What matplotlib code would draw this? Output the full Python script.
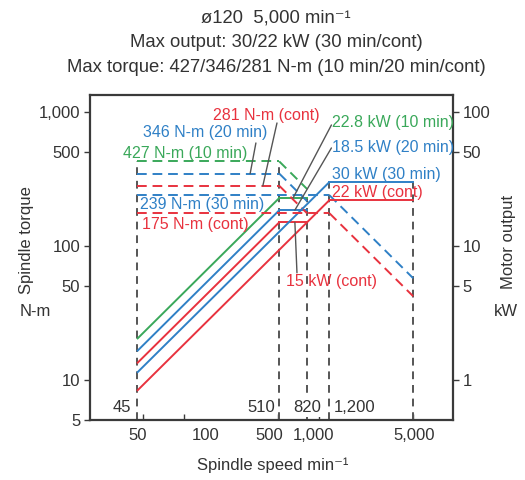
import numpy as np
import matplotlib
matplotlib.use("Agg")
import matplotlib.pyplot as plt
from matplotlib.ticker import FixedLocator, NullLocator, FixedFormatter
from matplotlib.transforms import ScaledTranslation

plt.rcParams['font.family'] = ['Liberation Sans', 'DejaVu Sans']

# ---- rating data -------------------------------------------------------
min_speed = 45                                   # min^-1
rating_names = ["10 min", "20 min", "cont", "30 min", "cont"]
max_torque = [427, 346, 281, 239, 175]           # N-m
max_output = [22.8, 18.5, 15, 30, 22]            # kW
base_speed = [510, 510, 510, 1200, 1200]         # min^-1
top_speed = [820, 820, 820, 5000, 5000]          # min^-1
line_colors = ["#3aa85a", "#2f80c6", "#e8323e", "#2f80c6", "#e8323e"]

marker_speeds = [45, 510, 820, 1200, 5000]
marker_labels = ["45", "510", "820", "1,200"]

x_ticks = [50, 100, 500, 1000, 5000]
x_ticklabels = ["50", "100", "500", "1,000", "5,000"]
y_ticks = [5, 10, 50, 100, 500, 1000]
y_ticklabels = ["5", "10", "50", "100", "500", "1,000"]
y2_ticks = [1, 5, 10, 50, 100]
y2_ticklabels = ["1", "5", "10", "50", "100"]

title_lines = ["ø120  5,000 min⁻¹",
               "Max output: 30/22 kW (30 min/cont)",
               "Max torque: 427/346/281 N-m (10 min/20 min/cont)"]

TXT = "#333333"
GRAY = "#555555"
FS = 11.5
FS_AX = 12
FS_TITLE = 13.3


def power_kw(torque, speed):
    return torque * 2 * np.pi * np.asarray(speed) / 60000.0


def torque_nm(power, speed):
    return power * 60000.0 / (2 * np.pi * np.asarray(speed))


fig = plt.figure(figsize=(5.25, 4.8), dpi=100)
ax = fig.add_axes([90 / 525, 60 / 480, 363 / 525, 325 / 480])
ax.set_xscale('log')
ax.set_yscale('log')
ax.set_xlim(20.2, 9860)
ax.set_ylim(5, 1340)

# right axis shows output in kW; left axis value = kW * 10
OUT_SCALE = 10.0

for T, P, nb, nt, c in zip(max_torque, max_output, base_speed, top_speed, line_colors):
    # output: rises with speed up to base speed, then constant
    n_rise = np.geomspace(min_speed, nb, 20)
    ax.plot(n_rise, power_kw(T, n_rise) * OUT_SCALE, color=c, lw=1.4, solid_capstyle='butt', zorder=3)
    ax.plot([nb, nt], [P * OUT_SCALE, P * OUT_SCALE], color=c, lw=1.4, zorder=3)
    # torque: constant up to base speed, then falls at constant output
    ax.plot([min_speed, nb], [T, T], color=c, lw=1.4, ls=(0, (5, 3)), zorder=3)
    n_fall = np.geomspace(nb, nt, 20)
    ax.plot(n_fall, torque_nm(P, n_fall), color=c, lw=1.4, ls=(0, (5, 3)), zorder=3)

# speed marker lines
marker_tops = [max_torque[0], max_torque[0], max_output[0] * OUT_SCALE,
               max_output[3] * OUT_SCALE, max_output[3] * OUT_SCALE]
for n, top in zip(marker_speeds, marker_tops):
    ax.plot([n, n], [5, top], color=GRAY, lw=1.4, ls=(0, (4, 3)), zorder=2)

lab_y = 6.2
ax.annotate(marker_labels[0], (marker_speeds[0], lab_y), xytext=(-4, 0), textcoords='offset points',
            ha='right', va='center', fontsize=FS_AX, color=TXT)
ax.annotate(marker_labels[1], (marker_speeds[1], lab_y), xytext=(-3, 0), textcoords='offset points',
            ha='right', va='center', fontsize=FS_AX, color=TXT)
ax.annotate(marker_labels[2], (marker_speeds[2], lab_y), ha='center', va='center', fontsize=FS_AX,
            color=TXT, bbox=dict(fc='white', ec='none', pad=1.5), zorder=5)
ax.annotate(marker_labels[3], (marker_speeds[3], lab_y), xytext=(3, 0), textcoords='offset points',
            ha='left', va='center', fontsize=FS_AX, color=TXT)

# curve labels
ax.text(406, 949, f"{max_torque[2]} N-m ({rating_names[2]})", color=line_colors[2], fontsize=FS, ha='center', va='center')
ax.text(143, 697, f"{max_torque[1]} N-m ({rating_names[1]})", color=line_colors[1], fontsize=FS, ha='center', va='center')
ax.text(102, 494, f"{max_torque[0]} N-m ({rating_names[0]})", color=line_colors[0], fontsize=FS, ha='center', va='center')
ax.text(47.4, 202, f"{max_torque[3]} N-m ({rating_names[3]})", color=line_colors[3], fontsize=FS, ha='left', va='center')
ax.text(49, 143.6, f"{max_torque[4]} N-m ({rating_names[4]})", color=line_colors[4], fontsize=FS, ha='left', va='center')

ax.text(1252, 828, f"{max_output[0]} kW ({rating_names[0]})", color=line_colors[0], fontsize=FS, ha='left', va='center')
ax.text(1252, 539, f"{max_output[1]} kW ({rating_names[1]})", color=line_colors[1], fontsize=FS, ha='left', va='center')
ax.text(1252, 339, f"{max_output[3]:g} kW ({rating_names[3]})", color=line_colors[3], fontsize=FS, ha='left', va='center')
ax.text(1252, 248.6, f"{max_output[4]:g} kW ({rating_names[4]})", color=line_colors[4], fontsize=FS, ha='left', va='center')
ax.text(1252, 53.9, f"{max_output[2]:g} kW ({rating_names[2]})", color=line_colors[2], fontsize=FS, ha='center', va='center')

# leader lines
leader = dict(arrowstyle='-', color=GRAY, lw=1.0, shrinkA=0, shrinkB=0)
ax.annotate('', xy=(385, max_torque[2]), xytext=(490, 828), arrowprops=leader, zorder=4)
ax.annotate('', xy=(310, max_torque[1]), xytext=(342, 587), arrowprops=leader, zorder=4)
ax.annotate('', xy=(645, max_output[0] * OUT_SCALE), xytext=(1240, 800), arrowprops=leader, zorder=4)
ax.annotate('', xy=(665, max_output[1] * OUT_SCALE), xytext=(1240, 539), arrowprops=leader, zorder=4)
ax.annotate('', xy=(665, max_output[2] * OUT_SCALE), xytext=(689, 62.9), arrowprops=leader, zorder=4)

# axes styling
for s in ax.spines.values():
    s.set_color("#3a3a3a")
    s.set_linewidth(1.6)

ax.xaxis.set_major_locator(FixedLocator(x_ticks))
ax.xaxis.set_major_formatter(FixedFormatter(x_ticklabels))
ax.xaxis.set_minor_locator(NullLocator())
ax.yaxis.set_major_locator(FixedLocator(y_ticks))
ax.yaxis.set_major_formatter(FixedFormatter(y_ticklabels))
ax.yaxis.set_minor_locator(NullLocator())
ax.tick_params(axis='x', direction='in', length=4, width=1, colors="#3a3a3a", labelcolor=TXT,
               labelsize=FS_AX, pad=6)
ax.tick_params(axis='y', direction='out', length=4, width=1, colors="#3a3a3a", labelcolor=TXT,
               labelsize=FS_AX, pad=3)

# the speed tick labels sit slightly off their ticks
label_shift_px = [-6, 22, -9, -5, 1]
fig.canvas.draw()
for lab, dx in zip(ax.get_xticklabels(), label_shift_px):
    lab.set_transform(lab.get_transform() + ScaledTranslation(dx / 100, 0, fig.dpi_scale_trans))

ax2 = ax.twinx()
ax2.set_yscale('log')
ax2.set_ylim(5 / OUT_SCALE, 1340 / OUT_SCALE)
ax2.yaxis.set_major_locator(FixedLocator(y2_ticks))
ax2.yaxis.set_major_formatter(FixedFormatter(y2_ticklabels))
ax2.yaxis.set_minor_locator(NullLocator())
ax2.tick_params(axis='y', direction='out', length=4, width=1, colors="#3a3a3a", labelcolor=TXT,
                labelsize=FS_AX, pad=3)
for s in ax2.spines.values():
    s.set_visible(False)

# axis titles
fig.text(273 / 525, 1 - 465 / 480, "Spindle speed min⁻¹", ha='center', va='center', fontsize=FS_AX, color=TXT)
fig.text(27 / 525, 1 - 240 / 480, "Spindle torque", rotation=90, ha='center', va='center', fontsize=FS_AX, color=TXT)
fig.text(35 / 525, 1 - 312 / 480, "N-m", ha='center', va='center', fontsize=FS_AX, color=TXT)
fig.text(508 / 525, 1 - 242 / 480, "Motor output", rotation=90, ha='center', va='center', fontsize=FS_AX, color=TXT)
fig.text(506 / 525, 1 - 312 / 480, "kW", ha='center', va='center', fontsize=FS_AX, color=TXT)

for i, line in enumerate(title_lines):
    fig.text(276 / 525, 1 - (18 + 24.5 * i) / 480, line, ha='center', va='center', fontsize=FS_TITLE, color=TXT)

fig.savefig("out.png", dpi=100, facecolor='white')
